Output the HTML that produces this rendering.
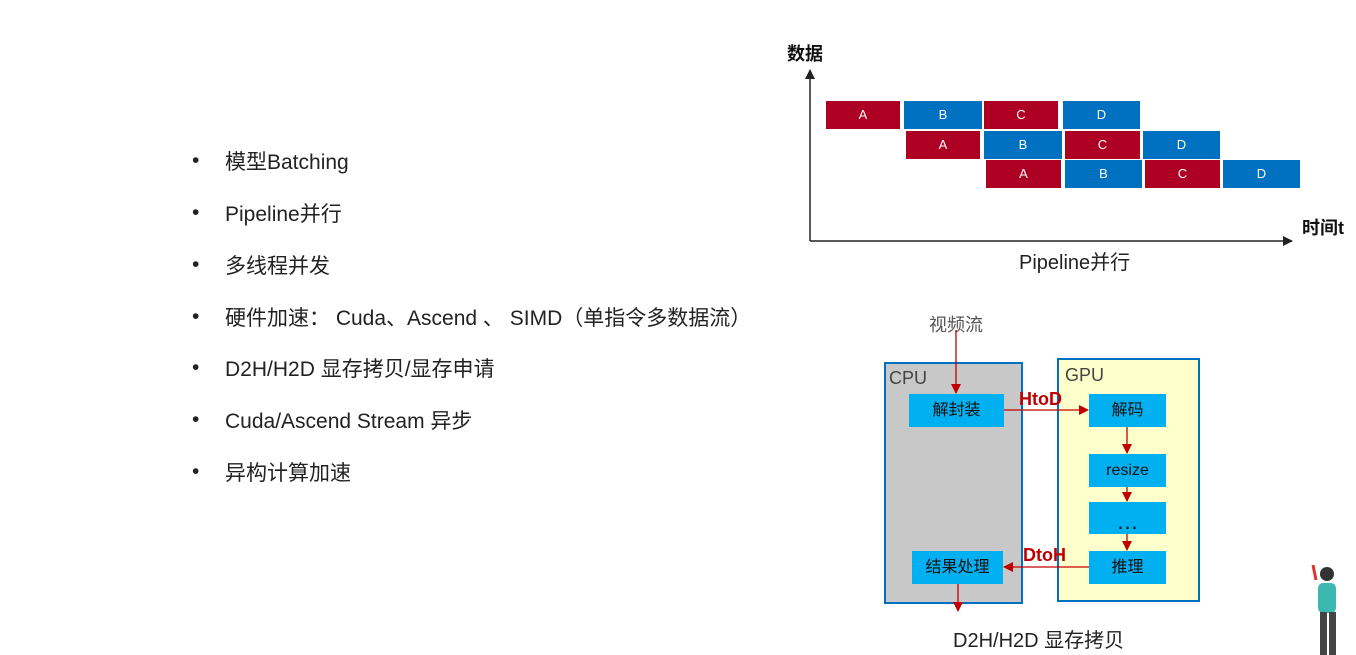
<!DOCTYPE html>
<html><head><meta charset="utf-8"><style>
body{margin:0;width:1356px;height:655px;background:#fff;position:relative;overflow:hidden;font-family:"Liberation Sans","Noto Sans CJK SC",sans-serif;}
.b{position:absolute;left:192px;font-size:21px;color:#222;}
.b span{position:absolute;left:33px;white-space:nowrap;top:-3px}
.r{position:absolute;height:28px;color:#fff;font-size:13px;text-align:center;line-height:28px;}
.red{background:#ae0022}.blu{background:#0070c0}
.n{position:absolute;background:#00b0f0;color:#111;font-size:16px;text-align:center;}
.t{position:absolute;white-space:nowrap;}
</style></head><body>
<div class="b" style="top:149px">•<span>模型Batching</span></div>
<div class="b" style="top:201px">•<span>Pipeline并行</span></div>
<div class="b" style="top:253px">•<span>多线程并发</span></div>
<div class="b" style="top:305px">•<span>硬件加速： Cuda、Ascend 、 SIMD（单指令多数据流）</span></div>
<div class="b" style="top:356px">•<span>D2H/H2D 显存拷贝/显存申请</span></div>
<div class="b" style="top:408px">•<span>Cuda/Ascend Stream 异步</span></div>
<div class="b" style="top:460px">•<span>异构计算加速</span></div>

<div class="r red" style="left:826px;top:101px;width:74px">A</div>
<div class="r blu" style="left:904px;top:101px;width:78px">B</div>
<div class="r red" style="left:984px;top:101px;width:74px">C</div>
<div class="r blu" style="left:1063px;top:101px;width:77px">D</div>
<div class="r red" style="left:906px;top:131px;width:74px">A</div>
<div class="r blu" style="left:984px;top:131px;width:78px">B</div>
<div class="r red" style="left:1065px;top:131px;width:75px">C</div>
<div class="r blu" style="left:1143px;top:131px;width:77px">D</div>
<div class="r red" style="left:986px;top:160px;width:75px">A</div>
<div class="r blu" style="left:1065px;top:160px;width:77px">B</div>
<div class="r red" style="left:1145px;top:160px;width:75px">C</div>
<div class="r blu" style="left:1223px;top:160px;width:77px">D</div>
<div class="t" style="left:787px;top:40px;font-size:18px;font-weight:bold;color:#111">数据</div>
<div class="t" style="left:1302px;top:214px;font-size:18px;font-weight:bold;color:#111">时间t</div>
<div class="t" style="left:1019px;top:246px;font-size:20px;color:#222">Pipeline并行</div>

<div style="position:absolute;left:884px;top:362px;width:135px;height:238px;background:#c8c8c8;border:2px solid #0070c0"></div>
<div style="position:absolute;left:1057px;top:358px;width:139px;height:240px;background:#ffffcc;border:2px solid #0070c0"></div>
<div class="t" style="left:889px;top:368px;font-size:18px;color:#444">CPU</div>
<div class="t" style="left:1065px;top:365px;font-size:18px;color:#444">GPU</div>
<div class="t" style="left:929px;top:311px;font-size:18px;color:#555">视频流</div>
<div class="n" style="left:909px;top:394px;width:95px;height:33px;line-height:33px">解封装</div>
<div class="n" style="left:1089px;top:394px;width:77px;height:33px;line-height:33px">解码</div>
<div class="n" style="left:1089px;top:454px;width:77px;height:33px;line-height:33px">resize</div>
<div class="n" style="left:1089px;top:502px;width:77px;height:32px;line-height:40px;font-size:22px">…</div>
<div class="n" style="left:1089px;top:551px;width:77px;height:33px;line-height:33px">推理</div>
<div class="n" style="left:912px;top:551px;width:91px;height:33px;line-height:33px">结果处理</div>
<div class="t" style="left:1019px;top:389px;font-size:18px;font-weight:bold;color:#c00000">HtoD</div>
<div class="t" style="left:1023px;top:545px;font-size:18px;font-weight:bold;color:#c00000">DtoH</div>
<div class="t" style="left:953px;top:624px;font-size:20px;color:#222">D2H/H2D 显存拷贝</div>

<svg width="1356" height="655" style="position:absolute;left:0;top:0">
<defs><marker id="k" markerWidth="10" markerHeight="10" refX="9" refY="5" orient="auto" markerUnits="userSpaceOnUse"><path d="M0,0L10,5L0,10z" fill="#222"/></marker>
<marker id="rd" markerWidth="10" markerHeight="10" refX="9" refY="5" orient="auto" markerUnits="userSpaceOnUse"><path d="M0,0L10,5L0,10z" fill="#c00000"/></marker></defs>
<line x1="810" y1="241" x2="810" y2="70" stroke="#222" stroke-width="1.5" marker-end="url(#k)"/>
<line x1="810" y1="241" x2="1292" y2="241" stroke="#222" stroke-width="1.5" marker-end="url(#k)"/>
<g stroke="#c00000" stroke-width="1.3">
<line x1="956" y1="330" x2="956" y2="393" marker-end="url(#rd)"/>
<line x1="1004" y1="410" x2="1088" y2="410" marker-end="url(#rd)"/>
<line x1="1127" y1="427" x2="1127" y2="453" marker-end="url(#rd)"/>
<line x1="1127" y1="487" x2="1127" y2="501" marker-end="url(#rd)"/>
<line x1="1127" y1="534" x2="1127" y2="550" marker-end="url(#rd)"/>
<line x1="1089" y1="567" x2="1004" y2="567" marker-end="url(#rd)"/>
<line x1="958" y1="584" x2="958" y2="611" marker-end="url(#rd)"/>
</g>
<g>
<rect x="1318" y="583" width="18" height="30" rx="5" fill="#3cb8b0"/>
<circle cx="1327" cy="574" r="7" fill="#333"/>
<rect x="1320" y="612" width="7" height="43" fill="#444"/>
<rect x="1329" y="612" width="7" height="43" fill="#444"/>
<line x1="1313" y1="565" x2="1316" y2="580" stroke="#d33" stroke-width="3"/>
</g>
</svg>
</body></html>
